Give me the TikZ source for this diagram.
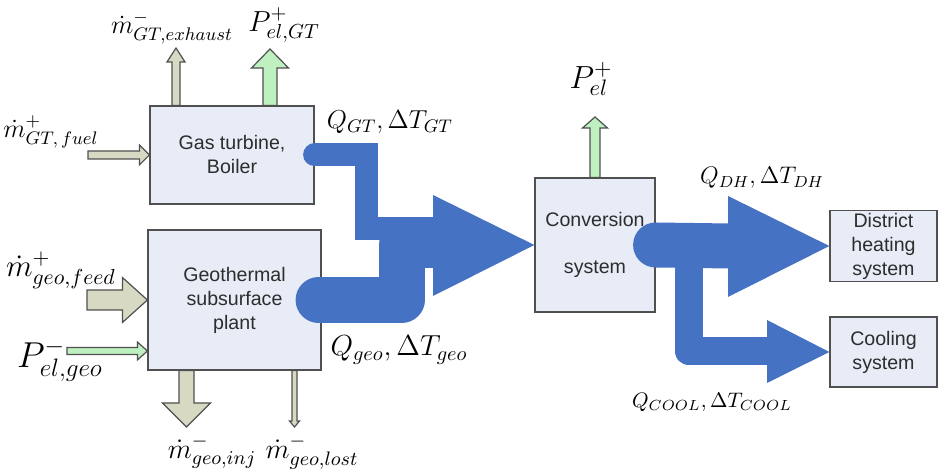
\RequirePackage{fix-cm}
\documentclass[tikz,border=0pt]{standalone}
\usepackage[no-math]{fontspec}
\newfontfamily\boxfont{Liberation Sans}
\usetikzlibrary{calc}

\definecolor{pipeblue}{RGB}{70,114,196}
\definecolor{boxfill}{RGB}{231,236,246}
\definecolor{boxline}{RGB}{80,80,80}
\definecolor{massfill}{RGB}{215,217,195}
\definecolor{powerfill}{RGB}{190,240,192}
\definecolor{boxtext}{RGB}{45,45,45}

% block arrows: [style]{tail}{tip}{shaft half width}{head half width}{head length}
\newcommand{\arrowE}[6][]{\draw[#1] let \p1=(#2), \p2=(#3) in
  (\x1,\y2+#4) -- (\x2-#6,\y2+#4) -- (\x2-#6,\y2+#5) -- (\p2) --
  (\x2-#6,\y2-#5) -- (\x2-#6,\y2-#4) -- (\x1,\y2-#4) -- cycle;}
\newcommand{\arrowN}[6][]{\draw[#1] let \p1=(#2), \p2=(#3) in
  (\x2+#4,\y1) -- (\x2+#4,\y2-#6) -- (\x2+#5,\y2-#6) -- (\p2) --
  (\x2-#5,\y2-#6) -- (\x2-#4,\y2-#6) -- (\x2-#4,\y1) -- cycle;}
\newcommand{\arrowS}[6][]{\draw[#1] let \p1=(#2), \p2=(#3) in
  (\x2+#4,\y1) -- (\x2+#4,\y2+#6) -- (\x2+#5,\y2+#6) -- (\p2) --
  (\x2-#5,\y2+#6) -- (\x2-#4,\y2+#6) -- (\x2-#4,\y1) -- cycle;}

\begin{document}
\begin{tikzpicture}[x=0.5pt,y=-0.5pt,
  unit/.style={draw=boxline, line width=0.6pt, fill=boxfill, inner sep=0pt,
    align=center, text=boxtext, font=\boxfont\fontsize{9.8}{12}\selectfont},
  mass/.style={draw=boxline, line width=0.6pt, fill=massfill, line join=miter},
  power/.style={draw=boxline, line width=0.6pt, fill=powerfill, line join=miter},
  pipe/.style={draw=pipeblue, line cap=round},
  head/.style={fill=pipeblue},
  lbl/.style={inner sep=0pt}]

\useasboundingbox (0,0) rectangle (938,474);

% process units
\node[unit, minimum width=82pt, minimum height=49pt] (gt) at (232,155) {Gas turbine,\\Boiler};
\node[unit, minimum width=86.5pt, minimum height=70pt] (geo) at (234.5,300) {Geothermal\\subsurface\\plant};
\node[unit, minimum width=60pt, minimum height=67pt] (conv) at (595,245) {Conversion\\[11.5pt]system};
\node[unit, minimum width=53.5pt, minimum height=35.5pt] (dh) at (883.5,246) {District\\heating\\system};
\node[unit, minimum width=53.5pt, minimum height=35pt] (cool) at (883.5,352) {Cooling\\system};

% mass and power flows of the gas turbine
\coordinate (exhTip) at (176,48);
\coordinate (pgtTip) at (270,49);
\coordinate (fuelTail) at (88,155);
\arrowN[mass]{[xshift=-28pt]gt.north}{exhTip}{2pt}{4.5pt}{7pt}
\arrowN[power]{[xshift=19pt]gt.north}{pgtTip}{3.5pt}{9.25pt}{9.5pt}
\arrowE[mass]{fuelTail}{gt.west}{2pt}{5pt}{5pt}

% mass and power flows of the geothermal plant
\coordinate (feedTail) at (87,300);
\coordinate (pgeoTail) at (67,351);
\coordinate (injTip) at (186.5,427);
\coordinate (lostTip) at (294.5,427);
\arrowE[mass]{feedTail}{geo.west}{5pt}{11.25pt}{12.5pt}
\arrowE[power]{pgeoTail}{[yshift=-25.5pt]geo.west}{1.75pt}{4.5pt}{5pt}
\arrowS[mass]{[xshift=-24pt]geo.south}{injTip}{3.75pt}{12pt}{12pt}
\arrowS[mass]{[xshift=30pt]geo.south}{lostTip}{1.25pt}{2.5pt}{3pt}

% electric power of the conversion system
\coordinate (pelTip) at (595,117);
\arrowN[power]{conv.north}{pelTip}{2.5pt}{6.25pt}{5.5pt}

% heat flows into the conversion system
\draw[pipe, line width=23pt, line join=round]
  ([xshift=-1.5pt]geo.east) -- (401.5,300) -- (401.5,245) -- (433,245);
\draw[pipe, line width=11.5pt, line join=miter]
  (gt.east) -- (366.5,155) -- (366.5,229) -- (433,229);
\fill[head] (433,195) -- (conv.west) -- (433,296) -- cycle;

% heat flows out of the conversion system
\draw[pipe, line width=14pt, line join=round]
  (689,246) -- (689,351.5) -- (768,351.5);
\draw[pipe, line width=22.5pt] (conv.east) -- (730,246);
\fill[head] (728,196) -- (dh.west) -- (728,297) -- cycle;
\fill[head] (767,320) -- (cool.west) -- (767,383) -- cycle;

% labels
\node[lbl, font=\fontsize{13}{15}\selectfont] (lexh) at (172,28) {$\dot{m}^{-}_{GT,exhaust}$};
\node[lbl, font=\fontsize{14.5}{16}\selectfont] (lpgt) at (284,25) {$P^{+}_{el,GT}$};
\node[lbl, font=\fontsize{13}{15}\selectfont] (lfuel) at (51,132) {$\dot{m}^{+}_{GT,\,fuel}$};
\node[lbl, font=\fontsize{13}{15}\selectfont] (lqgt) at (390,122) {$Q_{GT},\Delta T_{GT}$};
\node[lbl, font=\fontsize{16}{18}\selectfont] (lpel) at (591,79) {$P^{+}_{el}$};
\node[lbl, font=\fontsize{12}{14}\selectfont] (lqdh) at (762,178) {$Q_{DH},\Delta T_{DH}$};
\node[lbl, font=\fontsize{15.5}{17}\selectfont] (lfeed) at (61,270) {$\dot{m}^{+}_{geo,feed}$};
\node[lbl, font=\fontsize{18}{20}\selectfont] (lpgeo) at (60,360) {$P^{-}_{el,geo}$};
\node[lbl, font=\fontsize{14.5}{16}\selectfont] (lqgeo) at (399,350) {$Q_{geo},\Delta T_{geo}$};
\node[lbl, font=\fontsize{10.5}{12.5}\selectfont] (lqcool) at (712,402) {$Q_{COOL},\Delta T_{COOL}$};
\node[lbl, font=\fontsize{14}{16}\selectfont] (linj) at (212,452) {$\dot{m}^{-}_{geo,inj}$};
\node[lbl, font=\fontsize{14}{16}\selectfont] (llost) at (312,452) {$\dot{m}^{-}_{geo,lost}$};
\end{tikzpicture}
\end{document}
